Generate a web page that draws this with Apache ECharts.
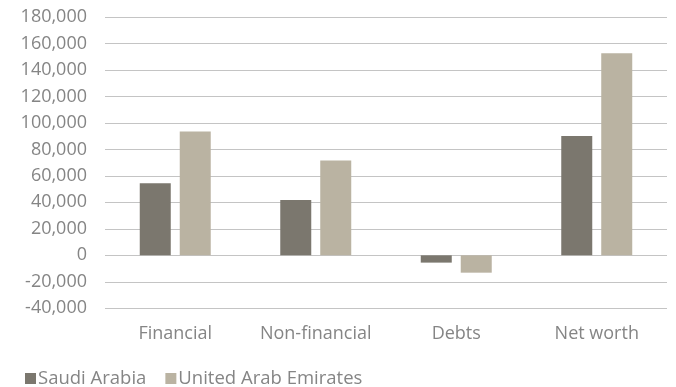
<!DOCTYPE html>
<html>
<head>
<meta charset="utf-8">
<style>
  html, body { margin: 0; padding: 0; background: #ffffff; }
  #chart { width: 676px; height: 387px; }
</style>
<script src="https://cdn.jsdelivr.net/npm/echarts@6/dist/echarts.min.js"></script>
</head>
<body>
<div id="chart"></div>
<script>
// Asset categories and holdings per country
const categories = ['Financial', 'Non-financial', 'Debts', 'Net worth'];
const seriesNames = ['Saudi Arabia', 'United Arab Emirates'];
const saudiArabia = [54500, 41800, -5500, 90200];
const uae = [93600, 71600, -13100, 152700];
const yTicks = { min: -40000, max: 180000, interval: 20000 };

const colors = ['#7b776e', '#bab3a2'];
const textColor = '#858585';
const fontFamily = '"Open Sans", "Noto Sans", sans-serif';

const chart = echarts.init(document.getElementById('chart'), null, { renderer: 'canvas' });
chart.setOption({
  animation: false,
  color: colors,
  textStyle: { fontFamily: fontFamily },
  grid: { left: 105, right: 9, top: 17, bottom: 78.7, containLabel: false },
  legend: {
    left: 20, top: 364,
    itemWidth: 11, itemHeight: 11, itemGap: 19,
    icon: 'rect',
    textStyle: { color: textColor, fontSize: 18.5, fontFamily: fontFamily, padding: [0, 0, 0, -3] },
    data: seriesNames
  },
  xAxis: {
    type: 'category',
    data: categories,
    axisLine: { show: false, onZero: false },
    axisTick: { show: false },
    axisLabel: { color: textColor, fontSize: 18, margin: 17, interval: 0, fontFamily: fontFamily }
  },
  yAxis: {
    type: 'value',
    min: yTicks.min, max: yTicks.max, interval: yTicks.interval,
    axisLine: { show: false },
    axisTick: { show: false },
    splitLine: { lineStyle: { color: '#c4c4c4', width: 1 } },
    axisLabel: {
      color: textColor, fontSize: 18, margin: 18, fontFamily: fontFamily,
      formatter: v => v.toLocaleString('en-US')
    }
  },
  series: [
    { name: seriesNames[0], type: 'bar', data: saudiArabia, barWidth: 31, barGap: '29%' },
    { name: seriesNames[1], type: 'bar', data: uae, barWidth: 31, barGap: '29%' }
  ]
});
</script>
</body>
</html>
